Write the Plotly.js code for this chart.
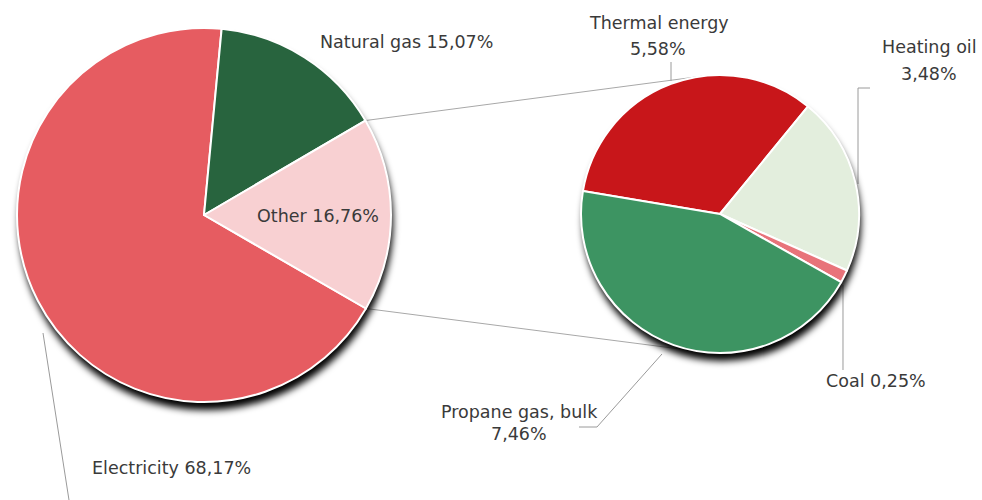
<!DOCTYPE html>
<html>
<head>
<meta charset="utf-8">
<script src="https://cdn.plot.ly/plotly-3.0.1.min.js"></script>
<style>
  html, body { margin: 0; padding: 0; background: #ffffff; }
  #chart { width: 982px; height: 500px; }
</style>
</head>
<body>
<div id="chart"></div>
<script>
// Energy sources, share of total (%)
const mainLabels = ['Electricity', 'Natural gas', 'Other'];
const mainValues = [68.17, 15.07, 16.76];

// Breakdown of "Other"
const otherLabels = ['Thermal energy', 'Heating oil', 'Coal', 'Propane gas, bulk'];
const otherValues = [5.58, 3.48, 0.25, 7.46];

const mainColors = ['#E65C61', '#28643E', '#F8D0D2'];
const otherColors = ['#C8161A', '#E3EEDD', '#E8737A', '#3D9462'];

const W = 982, H = 500;
const mainPie = { cx: 204, cy: 215, r: 187, rotation: 120 };
const subPie = { cx: 720, cy: 214, r: 139, rotation: -80.5 };

const fmt = v => v.toFixed(2).replace('.', ',');
const px = x => x / W;
const py = y => 1 - y / H;

function domainOf(p, dx = 0, dy = 0) {
  return {
    x: [px(p.cx - p.r + dx), px(p.cx + p.r + dx)],
    y: [py(p.cy + p.r + dy), py(p.cy - p.r + dy)]
  };
}

function pieTrace(labels, values, colors, p) {
  return {
    type: 'pie', labels: labels, values: values, sort: false,
    direction: 'clockwise', rotation: p.rotation,
    marker: { colors: colors, line: { color: '#ffffff', width: 2 } },
    textinfo: 'none', hoverinfo: 'label+percent',
    domain: domainOf(p), showlegend: false
  };
}

function shadowTrace(p, name) {
  return {
    type: 'pie', labels: [name], values: [1], sort: false,
    marker: { colors: ['rgba(0,0,0,1)'], line: { width: 0 } },
    textinfo: 'none', hoverinfo: 'skip',
    domain: domainOf(p, 2, 8), showlegend: false
  };
}

// point on a pie's rim at an angle measured clockwise from 12 o'clock
function rimPoint(p, deg) {
  const a = deg * Math.PI / 180;
  return [p.cx + p.r * Math.sin(a), p.cy - p.r * Math.cos(a)];
}

// tangent point on circle c as seen from point P (side +1 = upper, -1 = lower)
function tangentPoint(P, c, side) {
  const dx = P[0] - c.cx, dy = P[1] - c.cy;
  const d = Math.hypot(dx, dy);
  const a = Math.atan2(dy, dx) + side * Math.acos(c.r / d);
  return [c.cx + c.r * Math.cos(a), c.cy + c.r * Math.sin(a)];
}

function pathPx(points) {
  return points.map((pt, i) => (i ? 'L' : 'M') + px(pt[0]).toFixed(5) + ',' + py(pt[1]).toFixed(5)).join(' ');
}

// edges of the "Other" slice in the main pie
const total = mainValues.reduce((a, b) => a + b, 0);
const otherStart = mainPie.rotation + 360 * (mainValues[0] + mainValues[1]) / total;
const otherEnd = mainPie.rotation + 360;
const pTop = rimPoint(mainPie, otherStart);
const pBot = rimPoint(mainPie, otherEnd);

const connector = { color: '#a8a8a8', width: 1 };
const leader = { color: '#9a9a9a', width: 1 };

const shapes = [
  { d: [pTop, tangentPoint(pTop, subPie, 1)], line: connector },
  { d: [pBot, tangentPoint(pBot, subPie, -1)], line: connector },
  { d: [[671, 62], [671, 81]], line: leader },
  { d: [[870, 88], [858, 88], [858, 184]], line: leader },
  { d: [[843, 285], [843, 370]], line: leader },
  { d: [[662, 354], [597, 427], [579, 427]], line: leader },
  { d: [[43, 333], [69, 500]], line: leader }
].map(s => ({
  type: 'path', xref: 'paper', yref: 'paper', layer: 'below',
  path: pathPx(s.d), line: s.line
}));

const labelSpots = [
  { text: mainLabels[1] + ' ' + fmt(mainValues[1]) + '%', x: 406, y: 42 },
  { text: mainLabels[2] + ' ' + fmt(mainValues[2]) + '%', x: 318, y: 216 },
  { text: mainLabels[0] + ' ' + fmt(mainValues[0]) + '%', x: 171, y: 468 },
  { text: otherLabels[0], x: 659, y: 23 },
  { text: fmt(otherValues[0]) + '%', x: 658, y: 49 },
  { text: otherLabels[1], x: 929, y: 47 },
  { text: fmt(otherValues[1]) + '%', x: 929, y: 74 },
  { text: otherLabels[2] + ' ' + fmt(otherValues[2]) + '%', x: 876, y: 381 },
  { text: otherLabels[3], x: 519, y: 412 },
  { text: fmt(otherValues[3]) + '%', x: 519, y: 434 }
];

const annotations = labelSpots.map(l => ({
  text: l.text, xref: 'paper', yref: 'paper', x: px(l.x), y: py(l.y),
  xanchor: 'center', yanchor: 'middle', showarrow: false,
  font: { family: 'DejaVu Sans', size: 17.5, color: '#3a3a3a' }
}));

const data = [
  shadowTrace(mainPie, 'main-shadow'),
  shadowTrace(subPie, 'sub-shadow'),
  pieTrace(mainLabels, mainValues, mainColors, mainPie),
  pieTrace(otherLabels, otherValues, otherColors, subPie)
];

const layout = {
  width: W, height: H,
  margin: { l: 0, r: 0, t: 0, b: 0 },
  paper_bgcolor: '#ffffff',
  separators: ', ',
  shapes: shapes,
  annotations: annotations,
  font: { family: 'DejaVu Sans' }
};

Plotly.newPlot('chart', data, layout, { displayModeBar: false, staticPlot: true }).then(gd => {
  // soften the two shadow discs with a gaussian blur
  const NS = 'http://www.w3.org/2000/svg';
  const svg = gd.querySelector('svg.main-svg');
  let defs = svg.querySelector('defs');
  if (!defs) { defs = document.createElementNS(NS, 'defs'); svg.insertBefore(defs, svg.firstChild); }
  const filter = document.createElementNS(NS, 'filter');
  filter.setAttribute('id', 'pie-shadow');
  filter.setAttribute('x', '-20%'); filter.setAttribute('y', '-20%');
  filter.setAttribute('width', '140%'); filter.setAttribute('height', '140%');
  const blur = document.createElementNS(NS, 'feGaussianBlur');
  blur.setAttribute('stdDeviation', '3.5');
  filter.appendChild(blur);
  defs.appendChild(filter);
  gd.querySelectorAll('.pielayer .trace').forEach((g, i) => {
    if (i < 2) g.setAttribute('filter', 'url(#pie-shadow)');
  });
});
</script>
</body>
</html>
